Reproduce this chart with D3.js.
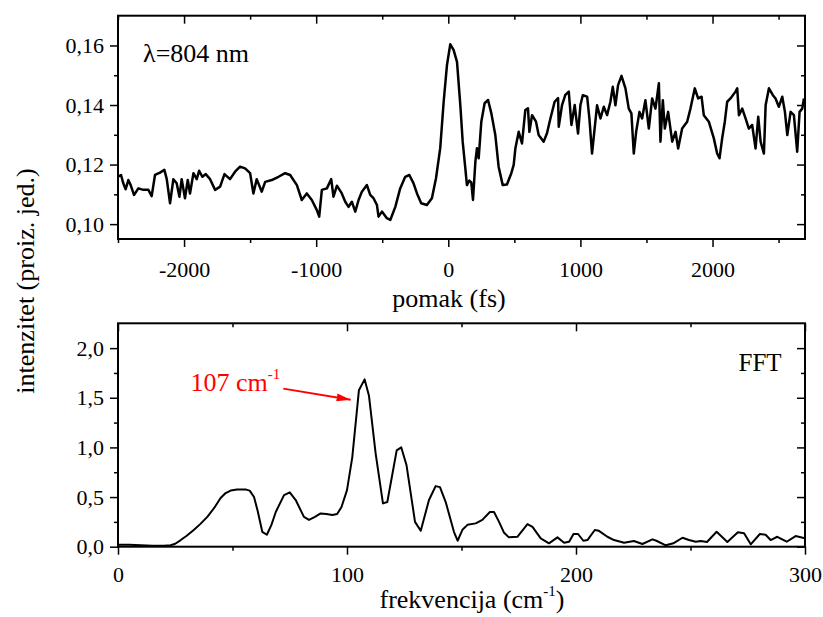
<!DOCTYPE html>
<html>
<head>
<meta charset="utf-8">
<script src="https://cdn.jsdelivr.net/npm/d3@7"></script>
<style>
  body { margin: 0; background: #fff; }
  svg { display: block; }
</style>
</head>
<body>
<svg id="chart" width="823" height="617"></svg>
<script>
// top panel: pump-probe trace (delay in fs, intensity)
const delayFs = [-2500,-2477,-2460,-2442,-2422,-2404,-2379,-2346,-2308,-2270,-2245,-2220,-2182,-2149,-2131,-2106,-2081,-2056,-2035,-2018,-1993,-1972,-1955,-1929,-1904,-1886,-1861,-1836,-1803,-1765,-1727,-1694,-1652,-1614,-1576,-1538,-1500,-1475,-1450,-1412,-1386,-1336,-1285,-1235,-1197,-1146,-1109,-1071,-1033,-995,-977,-957,-919,-886,-869,-843,-806,
  -780,-755,-730,-704,-679,-654,-616,-591,-566,-540,-528,-502,-465,-439,-401,-364,-326,-295,-263,-237,-205,-162,-124,-93,-61,-35,-10,15,40,66,91,109,129,141,159,174,187,205,217,230,250,275,301,326,356,381,412,444,477,495,508,533,558,583,603,614,634,664,684,722,747,773,805,831,836,861,886,912,932,957,
  982,1000,1018,1051,1068,1088,1109,1126,1152,1177,1202,1227,1245,1265,1285,1311,1341,1366,1386,1404,1422,1447,1467,1492,1518,1543,1568,1594,1606,1624,1639,1664,1695,1720,1740,1770,1808,1833,1866,1891,1917,1934,1972,2010,2035,2053,2073,2093,2111,2136,2174,2187,2200,2225,2250,2275,2300,2326,2346,2364,2389,2402,2427,2457,2477,2502,2528,2548,2566,2591,2616,2641,2659,2679,2692];
const signal = [0.1159,0.1165,0.1137,0.1117,0.1148,0.1131,0.1098,0.1120,0.1115,0.1115,0.1094,0.1165,0.1173,0.1182,0.1151,0.1070,0.1151,0.1137,0.1092,0.1151,0.1087,0.1148,0.1103,0.1171,0.1151,0.1179,0.1159,0.1168,0.1151,0.1115,0.1126,0.1168,0.1151,0.1176,0.1193,0.1187,0.1171,0.1103,0.1151,0.1109,0.1142,0.1148,0.1159,0.1171,0.1165,0.1131,0.1081,0.1103,0.1081,0.1047,0.1025,0.1115,0.1120,0.1151,0.1092,0.1129,0.1103,
  0.1075,0.1058,0.1075,0.1042,0.1081,0.1109,0.1131,0.1098,0.1087,0.1064,0.1025,0.1042,0.1020,0.1014,0.1058,0.1120,0.1159,0.1165,0.1137,0.1103,0.1070,0.1064,0.1087,0.1154,0.1255,0.1411,0.1534,0.1604,0.1585,0.1545,0.1400,0.1277,0.1187,0.1131,0.1146,0.1140,0.1081,0.1210,0.1255,0.1221,0.1344,0.1406,0.1417,0.1372,0.1299,0.1193,0.1131,0.1133,0.1171,0.1199,0.1255,0.1310,0.1271,0.1383,0.1389,0.1310,0.1366,0.1344,0.1299,0.1277,0.1305,0.1355,0.1411,0.1423,0.1327,0.1400,0.1434,0.1445,0.1333,0.1400,
  0.1304,0.1399,0.1433,0.1428,0.1355,0.1237,0.1327,0.1399,0.1355,0.1394,0.1366,0.1411,0.1461,0.1399,0.1467,0.1498,0.1456,0.1388,0.1372,0.1237,0.1310,0.1377,0.1355,0.1416,0.1321,0.1422,0.1388,0.1473,0.1277,0.1416,0.1321,0.1377,0.1277,0.1310,0.1254,0.1321,0.1344,0.1388,0.1456,0.1422,0.1428,0.1366,0.1344,0.1288,0.1237,0.1221,0.1288,0.1344,0.1411,0.1422,0.1445,0.1456,0.1366,0.1388,0.1355,0.1321,0.1333,0.1254,0.1361,0.1277,0.1237,0.1399,0.1456,0.1433,0.1422,0.1394,0.1428,0.1377,0.1299,0.1377,0.1366,0.1243,0.1377,0.1388,0.1422];

// bottom panel: FFT spectrum
const freqCm = [0,5,10,15,20,23,25,27.4,30,33.2,36,39,42,44.8,47,49.2,52,56,57.5,59.4,61,63,65,67,68.9,72.5,75,77.6,81.2,83.4,86,88.5,91,93.6,95.7,97.6,100,102.3,105.2,107.7,109.6,112.5,115.7,117.6,121.7,123.7,126,129.7,132.2,135.8,138.7,140.6,143.1,146.7,148.3,150.4,152.6,156.2,159.1,162.4,164.2,166.4,168.6,170.7,174.4,178.8,181,184.6,188.2,191.9,194.8,197,198.9,200.9,203.2,205,208.2,210,213.7,216.6,221,225.3,229,233.4,235.1,239.2,242.5,246.5,249.3,252.3,254.5,257.2,261.4,266.1,270.7,273.4,276.3,280.3,282.8,285,287.9,292,295.9,300];
const fftAmp = [0.02,0.02,0.015,0.01,0.01,0.015,0.03,0.067,0.11,0.17,0.23,0.30,0.39,0.49,0.54,0.565,0.575,0.575,0.565,0.50,0.36,0.15,0.12,0.22,0.35,0.52,0.547,0.47,0.30,0.27,0.30,0.335,0.33,0.32,0.33,0.40,0.57,0.90,1.575,1.685,1.52,0.94,0.436,0.45,0.97,1.0,0.82,0.25,0.16,0.47,0.61,0.60,0.45,0.15,0.06,0.17,0.22,0.235,0.27,0.35,0.35,0.25,0.14,0.094,0.10,0.228,0.20,0.084,0.034,0.094,0.04,0.05,0.128,0.128,0.06,0.067,0.168,0.16,0.10,0.067,0.04,0.057,0.027,0.074,0.06,0.014,0.034,0.09,0.067,0.05,0.057,0.047,0.15,0.047,0.145,0.135,0.024,0.128,0.12,0.067,0.10,0.05,0.107,0.084];

// ticks
const topXMajor = [-2000,-1000,0,1000,2000];
const topXMinor = [-2500,-1500,-500,500,1500,2500];
const topYMajor = [0.10,0.12,0.14,0.16];
const topYMinor = [0.11,0.13,0.15];
const botXMajor = [0,100,200,300];
const botXMinor = [50,150,250];
const botYMajor = [0,0.5,1.0,1.5,2.0];
const botYMinor = [0.25,0.75,1.25,1.75];

// annotation (data units)
const peakLabel = { f: 31.7, v: 1.565, text: '107 cm', sup: '-1' };
const peakArrow = { f0: 72.2, v0: 1.592, f1: 101.6, v1: 1.481 };

const FONT = '"Liberation Serif", "Times New Roman", serif';
const svg = d3.select('#chart');
const left = 118, right = 805;

const xTop = d3.scaleLinear().domain([-2500, 2700]).range([left, right]);
const yTop = d3.scaleLinear().domain([0.095, 0.17]).range([239, 15.7]);
const xBot = d3.scaleLinear().domain([0, 300]).range([left, right]);
const yBot = d3.scaleLinear().domain([0, 2.25]).range([546.7, 323.3]);

// origin-style labels: decimal comma, ascii hyphen for minus
const numFmt = function (p) {
  return function (d) { return d3.format('.' + p + 'f')(d).replace('.', ',').replace('\u2212', '-'); };
};

svg.append('defs').append('marker')
  .attr('id', 'arrow')
  .attr('viewBox', '0 0 14 8')
  .attr('refX', 14).attr('refY', 4)
  .attr('markerWidth', 14).attr('markerHeight', 8)
  .attr('markerUnits', 'userSpaceOnUse')
  .attr('orient', 'auto')
  .append('path').attr('d', 'M0,0L14,4L0,8Z').attr('fill', 'red');

function panel(x, y, xMaj, xMin, yMaj, yMin, xFmt, yFmt, xPad, clipId) {
  const [x0, x1] = x.range(), [y0, y1] = y.range();
  const g = svg.append('g');
  g.append('clipPath').attr('id', clipId)
    .append('rect').attr('x', x0).attr('y', y1).attr('width', x1 - x0).attr('height', y0 - y1);

  const axes = [
    { ax: d3.axisBottom(x), tr: `translate(0,${y0})`, maj: xMaj, min: xMin, size: 8, fmt: xFmt, pad: xPad },
    { ax: d3.axisTop(x), tr: `translate(0,${y1})`, maj: xMaj, min: xMin, size: -8, fmt: null },
    { ax: d3.axisLeft(y), tr: `translate(${x0},0)`, maj: yMaj, min: yMin, size: 8, fmt: yFmt, pad: 6 },
    { ax: d3.axisRight(y), tr: `translate(${x1},0)`, maj: yMaj, min: yMin, size: -8, fmt: null },
  ];
  axes.forEach(function (a) {
    const gMaj = g.append('g').attr('transform', a.tr)
      .call(a.ax.tickValues(a.maj).tickSize(a.size).tickSizeOuter(0)
        .tickPadding(a.pad || 3).tickFormat(a.fmt || ''));
    gMaj.attr('font-family', FONT);
    gMaj.select('.domain').remove();
    gMaj.selectAll('line').attr('stroke-width', 1.5);
    gMaj.selectAll('text').attr('font-size', 22).attr('fill', '#000')
      .attr('font-family', FONT);
    const gMin = g.append('g').attr('transform', a.tr)
      .call(a.ax.tickValues(a.min).tickSize(a.size / 2).tickFormat(''));
    gMin.select('.domain').remove();
    gMin.selectAll('line').attr('stroke-width', 1.5);
  });

  g.append('rect')
    .attr('x', x0).attr('y', y1).attr('width', x1 - x0).attr('height', y0 - y1)
    .attr('fill', 'none').attr('stroke', '#000').attr('stroke-width', 2);
  return g;
}

const gTop = panel(xTop, yTop, topXMajor, topXMinor, topYMajor, topYMinor, numFmt(0), numFmt(2), 14, 'clipTop');
const gBot = panel(xBot, yBot, botXMajor, botXMinor, botYMajor, botYMinor, numFmt(0), numFmt(1), 12, 'clipBot');

// traces
const topLine = d3.line()
  .x(function (d, i) { return xTop(delayFs[i]); })
  .y(function (d) { return yTop(d); });
gTop.append('path')
  .datum(signal)
  .attr('clip-path', 'url(#clipTop)')
  .attr('d', topLine)
  .attr('fill', 'none').attr('stroke', '#000').attr('stroke-width', 2.5)
  .attr('stroke-linejoin', 'round');

const botLine = d3.line()
  .x(function (d, i) { return xBot(freqCm[i]); })
  .y(function (d) { return yBot(d); });
gBot.append('path')
  .datum(fftAmp)
  .attr('clip-path', 'url(#clipBot)')
  .attr('d', botLine)
  .attr('fill', 'none').attr('stroke', '#000').attr('stroke-width', 2)
  .attr('stroke-linejoin', 'round');

// labels
function label(x, y, size) {
  return svg.append('text').attr('x', x).attr('y', y)
    .attr('font-family', FONT).attr('font-size', size).attr('fill', '#000');
}

label(xTop(-2310), yTop(0.1544), 26).text('λ=804 nm');

label(xBot(289.8), yBot(1.767), 25).attr('text-anchor', 'end').text('FFT');

const pk = label(xBot(peakLabel.f), yBot(peakLabel.v), 26).attr('fill', 'red');
pk.append('tspan').text(peakLabel.text);
pk.append('tspan').attr('dy', -12).attr('font-size', 15).text(peakLabel.sup);

svg.append('line')
  .attr('x1', xBot(peakArrow.f0)).attr('y1', yBot(peakArrow.v0))
  .attr('x2', xBot(peakArrow.f1)).attr('y2', yBot(peakArrow.v1))
  .attr('stroke', 'red').attr('stroke-width', 2)
  .attr('marker-end', 'url(#arrow)');

label(449, 307, 26).attr('text-anchor', 'middle').text('pomak (fs)');

const fx = label(472, 608, 26).attr('text-anchor', 'middle');
fx.append('tspan').text('frekvencija (cm');
fx.append('tspan').attr('dy', -12).attr('font-size', 15).text('-1');
fx.append('tspan').attr('dy', 12).text(')');

label(0, 0, 26)
  .attr('transform', 'translate(34,281) rotate(-90)')
  .attr('text-anchor', 'middle')
  .text('intenzitet (proiz. jed.)');
</script>
</body>
</html>
